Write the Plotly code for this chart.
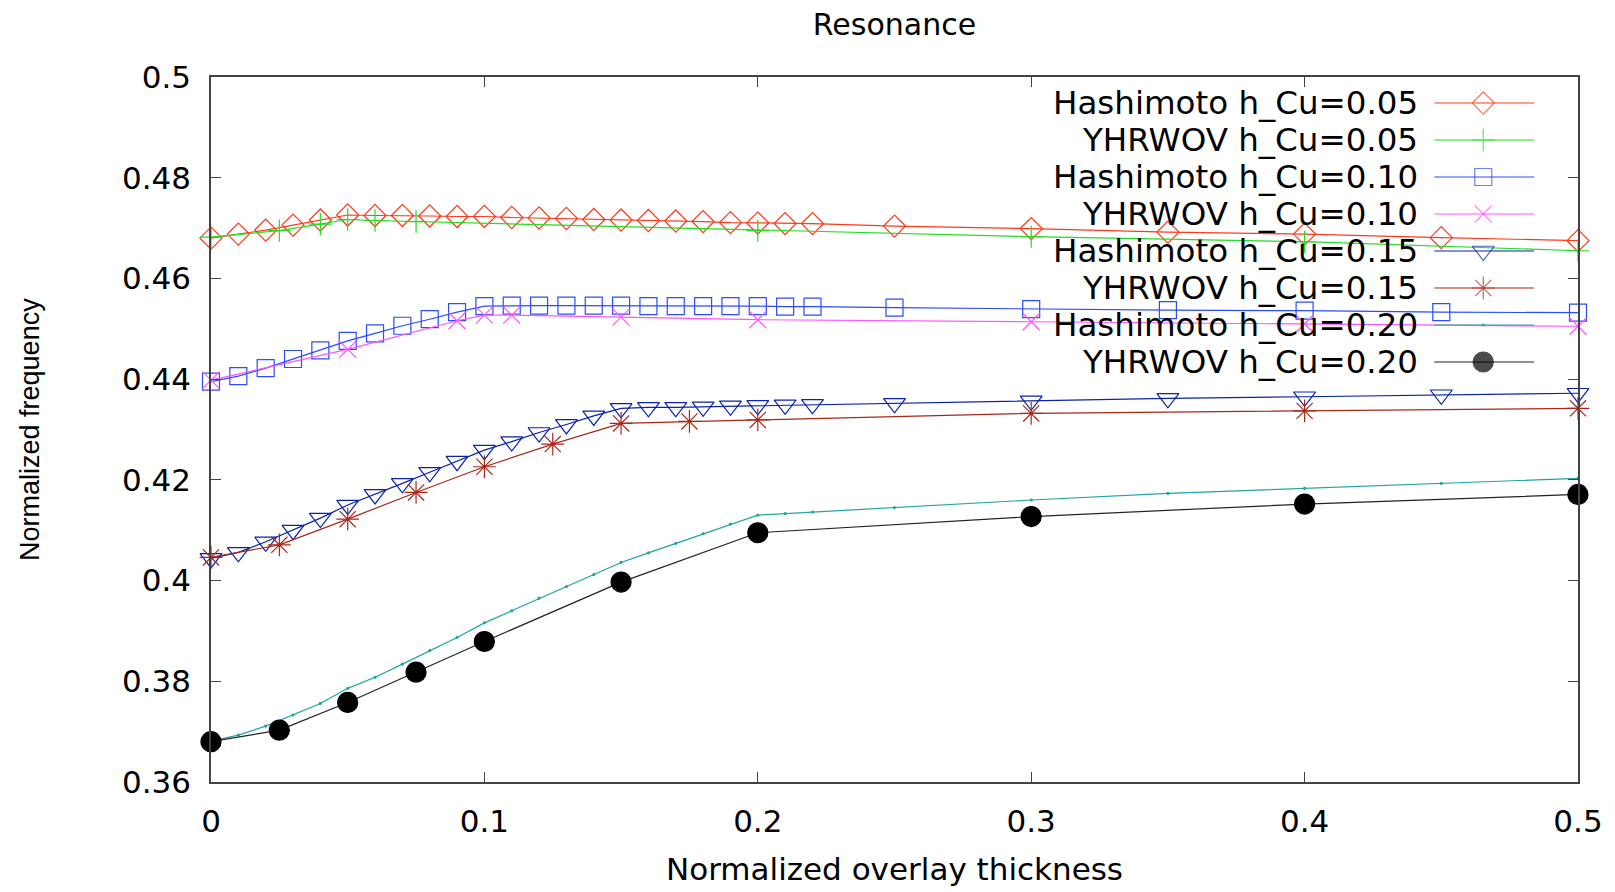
import plotly.graph_objects as go

# ---------------- data ----------------
x_hash = [0.00, 0.01, 0.02, 0.03, 0.04, 0.05, 0.06, 0.07, 0.08, 0.09, 0.10,
          0.11, 0.12, 0.13, 0.14, 0.15, 0.16, 0.17, 0.18, 0.19, 0.20, 0.21,
          0.22, 0.25, 0.30, 0.35, 0.40, 0.45, 0.50]

hash_005 = [0.4680, 0.4688, 0.4696, 0.4706, 0.4716, 0.4726, 0.4725, 0.4725, 0.4724,
            0.4723, 0.4723, 0.4721, 0.4720, 0.4719, 0.4717, 0.4716, 0.4715, 0.4714,
            0.4713, 0.4711, 0.4710, 0.4709, 0.4709, 0.4704, 0.4699, 0.4692, 0.4688,
            0.4681, 0.4675]

x_yh005 = [0.0, 0.025, 0.04, 0.05, 0.06, 0.075, 0.2, 0.3, 0.4, 0.5]
yh_005 = [0.4682, 0.4695, 0.4708, 0.4717, 0.4715, 0.4713, 0.4695, 0.4683, 0.4673, 0.4655]

hash_010 = [0.4395, 0.4406, 0.4422, 0.4440, 0.4457, 0.4476, 0.4491, 0.4506, 0.4519,
            0.4533, 0.4545, 0.4546, 0.4546, 0.4546, 0.4546, 0.4546, 0.4545, 0.4545,
            0.4545, 0.4545, 0.4545, 0.4544, 0.4544, 0.4542, 0.4539, 0.4537, 0.4536,
            0.4533, 0.4532]

x_yh010 = [0.0, 0.05, 0.09, 0.10, 0.11, 0.15, 0.2, 0.3, 0.4, 0.5]
yh_010 = [0.4398, 0.4459, 0.4516, 0.4527, 0.4527, 0.4523, 0.4518, 0.4514, 0.4510, 0.4505]

hash_015 = [0.4044, 0.4056, 0.4077, 0.4100, 0.4124, 0.4150, 0.4171, 0.4193, 0.4215,
            0.4237, 0.4259, 0.4276, 0.4294, 0.4310, 0.4327, 0.4342, 0.4344, 0.4344,
            0.4345, 0.4347, 0.4348, 0.4349, 0.4350, 0.4352, 0.4357, 0.4362, 0.4365,
            0.4369, 0.4372]

x_yh015 = [0.0, 0.025, 0.05, 0.075, 0.1, 0.125, 0.15, 0.175, 0.2, 0.3, 0.4, 0.5]
yh_015 = [0.4046, 0.4071, 0.4122, 0.4175, 0.4226, 0.4271, 0.4312, 0.4316, 0.4319,
          0.4332, 0.4337, 0.4342]

hash_020 = [0.3681, 0.3693, 0.3711, 0.3733, 0.3756, 0.3786, 0.3808, 0.3834, 0.3861,
            0.3887, 0.3916, 0.3940, 0.3965, 0.3988, 0.4012, 0.4036, 0.4055, 0.4074,
            0.4093, 0.4112, 0.4130, 0.4133, 0.4136, 0.4145, 0.4160, 0.4173, 0.4183,
            0.4193, 0.4203]

x_yh020 = [0.0, 0.025, 0.05, 0.075, 0.1, 0.15, 0.2, 0.3, 0.4, 0.5]
yh_020 = [0.3680, 0.3703, 0.3758, 0.3818, 0.3879, 0.3997, 0.4095, 0.4127, 0.4152, 0.4171]

series_names = ["Hashimoto h_Cu=0.05", "YHRWOV h_Cu=0.05",
                "Hashimoto h_Cu=0.10", "YHRWOV h_Cu=0.10",
                "Hashimoto h_Cu=0.15", "YHRWOV h_Cu=0.15",
                "Hashimoto h_Cu=0.20", "YHRWOV h_Cu=0.20"]

x_tick_vals = [0, 0.1, 0.2, 0.3, 0.4, 0.5]
x_tick_text = ["0", "0.1", "0.2", "0.3", "0.4", "0.5"]
y_tick_vals = [0.36, 0.38, 0.40, 0.42, 0.44, 0.46, 0.48, 0.50]
y_tick_text = ["0.36", "0.38", "0.4", "0.42", "0.44", "0.46", "0.48", "0.5"]

# ---------------- styles ----------------
styles = [
    dict(color="#ff3a1a", line="#ff3a1a", symbol="diamond-open", size=17),
    dict(color="#22dd22", line="#22dd22", symbol="cross-thin-open", size=16),
    dict(color="#2d4bff", line="#2d4bff", symbol="square-open", size=17),
    dict(color="#ff55ff", line="#ff55ff", symbol="x-thin-open", size=17),
    dict(color="#0a22a8", line="#0a22a8", symbol="triangle-down-open", size=19),
    dict(color="#a8281a", line="#a8281a", symbol="asterisk-open", size=19),
    dict(color="#20a4a4", line="#20a4a4", symbol="circle", size=2),
    dict(color="#000000", line="#222222", symbol="circle", size=20),
]

data_sets = [(x_hash, hash_005), (x_yh005, yh_005),
             (x_hash, hash_010), (x_yh010, yh_010),
             (x_hash, hash_015), (x_yh015, yh_015),
             (x_hash, hash_020), (x_yh020, yh_020)]

FONT = "DejaVu Sans"
fig = go.Figure()

for name, (xs, ys), st in zip(series_names, data_sets, styles):
    fig.add_trace(go.Scatter(
        x=xs, y=ys, name=name, mode="lines+markers", showlegend=False,
        cliponaxis=False,
        line=dict(color=st["line"], width=1.2),
        marker=dict(symbol=st["symbol"], size=st["size"], color=st["color"],
                    line=dict(color=st["color"], width=1.2)),
    ))

# ---------------- custom legend (text left, sample right, like gnuplot) ----------------
L_TEXT_X = 0.8847
L_LINE_X0, L_LINE_X1, L_MARK_X = 0.8949, 0.9679, 0.9307
ROW0, ROW_STEP = 0.9631, 0.05248
annotations = []
for i, (name, st) in enumerate(zip(series_names, styles)):
    ry = ROW0 - i * ROW_STEP
    annotations.append(dict(xref="paper", yref="paper", x=L_TEXT_X, y=ry,
                            xanchor="right", yanchor="middle", showarrow=False,
                            text=name, font=dict(family=FONT, size=32.5, color="black")))
    fig.add_trace(go.Scatter(
        x=[L_LINE_X0, L_MARK_X, L_LINE_X1], y=[ry, ry, ry], xaxis="x2", yaxis="y2",
        mode="lines+markers", showlegend=False, hoverinfo="skip", cliponaxis=False,
        line=dict(color=st["line"], width=1.2),
        marker=dict(symbol=st["symbol"], size=[0, st["size"], 0], color=st["color"],
                    line=dict(color=st["color"], width=1.2)),
    ))

annotations.append(dict(xref="paper", yref="paper", x=0.5, y=-0.123,
                        xanchor="center", yanchor="middle", showarrow=False,
                        text="Normalized overlay thickness",
                        font=dict(family=FONT, size=31, color="black")))
annotations.append(dict(xref="paper", yref="paper", x=-0.1328, y=0.5,
                        xanchor="center", yanchor="middle", showarrow=False,
                        textangle=-90, text="Normalized frequency",
                        font=dict(family="Liberation Sans", size=27, color="black")))

axis_common = dict(showline=True, linecolor="#444444", linewidth=1.5, mirror="ticks",
                   ticks="inside", ticklen=10, tickcolor="#444444", tickwidth=1.2,
                   showgrid=False, zeroline=False,
                   tickfont=dict(family=FONT, size=31, color="black"))

# the page body has an 8px margin, so the figure is sized/offset to compensate
fig.update_layout(
    width=1607, height=884,
    margin=dict(l=203, r=34, t=69, b=110),
    paper_bgcolor="white", plot_bgcolor="white",
    title=dict(text="Resonance", x=0.5, xref="paper", xanchor="center",
               y=1 - 16 / 884, yanchor="middle",
               font=dict(family=FONT, size=30, color="black")),
    xaxis=dict(range=[0, 0.5], tickvals=x_tick_vals, ticktext=x_tick_text,
               ticklabelstandoff=11, **axis_common),
    yaxis=dict(range=[0.36, 0.5], tickvals=y_tick_vals, ticktext=y_tick_text,
               ticklabelstandoff=12, **axis_common),
    xaxis2=dict(overlaying="x", range=[0, 1], visible=False),
    yaxis2=dict(overlaying="y", range=[0, 1], visible=False),
    annotations=annotations,
    showlegend=False,
)

fig.write_html("out.html")
